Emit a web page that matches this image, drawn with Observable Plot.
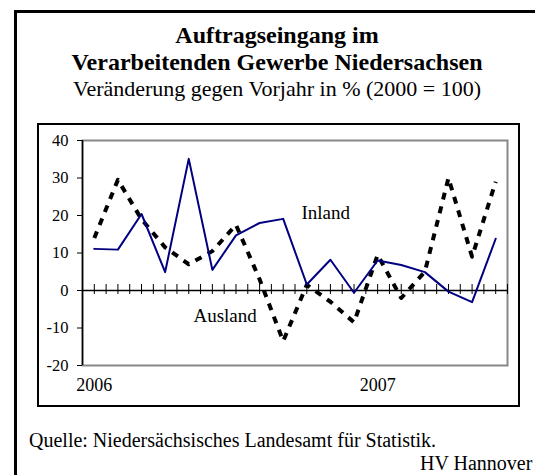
<!DOCTYPE html>
<html><head><meta charset="utf-8">
<script src="https://cdn.jsdelivr.net/npm/d3@7"></script>
<script src="https://cdn.jsdelivr.net/npm/@observablehq/plot@0.6"></script>
<style>
body{margin:0;background:#fff;}
#page{position:relative;width:535px;height:475px;overflow:hidden;font-family:"Liberation Serif","Times New Roman",serif;color:#000;}
#outer{position:absolute;left:14px;top:10px;width:700px;height:700px;border-left:3px solid #000;border-top:3px solid #000;}
.t{position:absolute;left:0;width:554px;text-align:center;white-space:nowrap;line-height:1;}
#t1{top:23px;font-weight:bold;font-size:24px;}
#t2{top:50px;font-weight:bold;font-size:24px;}
#t3{top:78px;font-size:22px;}
#box{position:absolute;left:37px;top:123px;width:479px;height:280px;border:2px solid #000;}
#box svg{display:block;}
#cap{position:absolute;left:29px;top:430px;font-size:20px;line-height:1;white-space:nowrap;}
#hv{position:absolute;left:420px;top:453px;font-size:20px;line-height:1;white-space:nowrap;}
</style></head>
<body><div id="page">
<div id="outer"></div>
<div class="t" id="t1">Auftragseingang im</div>
<div class="t" id="t2">Verarbeitenden Gewerbe Niedersachsen</div>
<div class="t" id="t3">Veränderung gegen Vorjahr in % (2000 = 100)</div>
<div id="box"></div>
<div id="cap">Quelle: Niedersächsisches Landesamt für Statistik.</div>
<div id="hv">HV Hannover</div>
</div>
<script>
const months = ["Jan 2006","Feb 2006","Mär 2006","Apr 2006","Mai 2006","Jun 2006","Jul 2006","Aug 2006","Sep 2006","Okt 2006","Nov 2006","Dez 2006","Jan 2007","Feb 2007","Mär 2007","Apr 2007","Mai 2007","Jun 2007"];
const inland  = [11.1, 10.9, 20.4, 4.9, 35.1, 5.5, 14.7, 18.0, 19.1, 1.6, 8.2, -0.6, 8.0, 6.8, 4.9, -0.3, -3.1, 13.8];
const ausland = [14.0, 29.5, 19.0, 11.5, 7.0, 10.5, 17.5, 3.0, -13.5, 1.5, -3.0, -8.5, 9.5, -2.0, 5.0, 30.0, 9.0, 29.0];
const yTicks = [-20, -10, 0, 10, 20, 30, 40];
const yearLabels = [{month: 0, label: "2006"}, {month: 12, label: "2007"}];
const seriesLabels = [{name: "Inland", month: 9.8, value: 20.6}, {name: "Ausland", month: 5.54, value: -6.7}];

const inlandData = months.map((m, i) => ({i, v: inland[i]}));
const auslandData = months.map((m, i) => ({i, v: ausland[i]}));
const halfTicks = months.flatMap((m, i) => [i - 0.5, i]).concat([months.length - 0.5]);

const chart = Plot.plot({
  width: 479, height: 280,
  marginLeft: 43, marginRight: 11, marginTop: 15, marginBottom: 40,
  x: {domain: [-0.5, months.length - 0.5], axis: null},
  y: {domain: [-20, 40], axis: null},
  style: {fontFamily: "'Liberation Serif', 'Times New Roman', serif", fontSize: "16px", background: "transparent", color: "#000"},
  marks: [
    Plot.frame({stroke: "#888", strokeWidth: 2}),
    Plot.ruleY([0], {stroke: "#000", strokeWidth: 1.5}),
    Plot.ruleX(halfTicks, {x: d => d, y1: 0, y2: 0, insetTop: -6, insetBottom: -4, stroke: "#000", strokeWidth: 1}),
    Plot.ruleX([-0.5], {stroke: "#000", strokeWidth: 1.5}),
    Plot.axisY({ticks: yTicks, tickSize: 5, tickPadding: 9, fontSize: 16.5, tickFormat: d => String(d), stroke: "#000"}),
    Plot.line(auslandData, {x: "i", y: "v", stroke: "#000", strokeWidth: 4, strokeDasharray: "7,7", strokeLinecap: "butt"}),
    Plot.line(inlandData, {x: "i", y: "v", stroke: "#000080", strokeWidth: 2}),
    Plot.text(yearLabels, {x: "month", frameAnchor: "bottom", dy: 25, text: "label", fontSize: 18}),
    Plot.text(seriesLabels, {x: "month", y: "value", text: "name", fontSize: 19})
  ]
});
document.getElementById("box").appendChild(chart);
</script>
</body></html>
